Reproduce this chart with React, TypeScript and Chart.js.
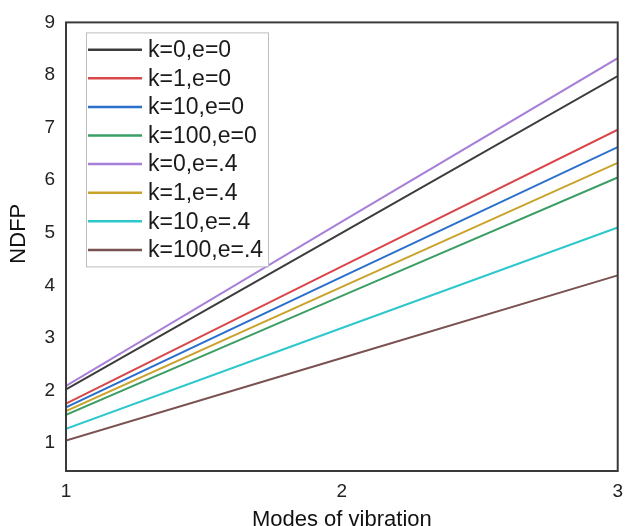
import { useEffect, useRef } from "react";
import { Chart, registerables } from "chart.js";

Chart.register(...registerables);

// Mode numbers on the x axis
const modes = [1, 2, 3];
// Y axis tick values
const yTicks = [1, 2, 3, 4, 5, 6, 7, 8, 9];
// Axis titles
const xTitle = "Modes of vibration";
const yTitle = "NDFP";

// Series names
const seriesLabels = [
  "k=0,e=0",
  "k=1,e=0",
  "k=10,e=0",
  "k=100,e=0",
  "k=0,e=.4",
  "k=1,e=.4",
  "k=10,e=.4",
  "k=100,e=.4",
];

// NDFP for each mode
const k0e0 = [2.02, 5.0, 7.98];
const k1e0 = [1.75, 4.36, 6.96];
const k10e0 = [1.68, 4.16, 6.63];
const k100e0 = [1.54, 3.8, 6.05];
const k0e04 = [2.09, 5.21, 8.32];
const k1e04 = [1.61, 3.97, 6.33];
const k10e04 = [1.27, 3.19, 5.1];
const k100e04 = [1.05, 2.62, 4.19];

const seriesValues = [k0e0, k1e0, k10e0, k100e0, k0e04, k1e04, k10e04, k100e04];

const seriesColors = [
  "#3c3c3c",
  "#d9474a",
  "#2a6fcc",
  "#3b9e64",
  "#a87fd8",
  "#c9a22a",
  "#2ec7cc",
  "#7a5252",
];

const FONT = "'Liberation Sans', Arial, Helvetica, sans-serif";

// Box around the plotting area
const framePlugin = {
  id: "frame",
  afterDatasetsDraw(chart: any) {
    const { ctx, chartArea: a } = chart;
    ctx.save();
    ctx.strokeStyle = "#3a3a3a";
    ctx.lineWidth = 2;
    ctx.strokeRect(a.left, a.top, a.right - a.left, a.bottom - a.top);
    ctx.restore();
  },
};

// Rotated y-axis title, sitting slightly above the plot's middle
const yTitlePlugin = {
  id: "yTitle",
  afterDraw(chart: any) {
    const { ctx, chartArea: a } = chart;
    ctx.save();
    ctx.translate(19, (a.top + a.bottom) / 2 - 13);
    ctx.rotate(-Math.PI / 2);
    ctx.font = `22px ${FONT}`;
    ctx.fillStyle = "#111";
    ctx.textAlign = "center";
    ctx.textBaseline = "middle";
    ctx.fillText(yTitle, 0, 0);
    ctx.restore();
  },
};

// Boxed legend in the upper-left corner of the plot
const boxLegendPlugin = {
  id: "boxLegend",
  afterDraw(chart: any) {
    const { ctx, chartArea: a } = chart;
    const boxX = a.left + 20;
    const boxY = a.top + 10;
    const boxW = 182;
    const boxH = 234;
    const rowH = 28.6;
    const firstRow = boxY + 17.3;
    ctx.save();
    ctx.fillStyle = "#ffffff";
    ctx.fillRect(boxX, boxY, boxW, boxH);
    ctx.strokeStyle = "#bdbdbd";
    ctx.lineWidth = 1;
    ctx.strokeRect(boxX + 0.5, boxY + 0.5, boxW, boxH);
    ctx.font = `23px ${FONT}`;
    ctx.textBaseline = "middle";
    ctx.textAlign = "left";
    chart.data.datasets.forEach((ds: any, i: number) => {
      const y = firstRow + i * rowH;
      ctx.strokeStyle = ds.borderColor;
      ctx.lineWidth = 2.5;
      ctx.beginPath();
      ctx.moveTo(boxX + 2, y);
      ctx.lineTo(boxX + 56, y);
      ctx.stroke();
      ctx.fillStyle = "#1a1a1a";
      ctx.fillText(ds.label, boxX + 62, y + 1);
    });
    ctx.restore();
  },
};

export default function App() {
  const canvasRef = useRef<HTMLCanvasElement | null>(null);

  useEffect(() => {
    const canvas = canvasRef.current;
    if (!canvas) return;
    const chart = new Chart(canvas, {
      type: "line",
      data: {
        datasets: seriesLabels.map((label, i) => ({
          label,
          data: modes.map((m, j) => ({ x: m, y: seriesValues[i][j] })),
          borderColor: seriesColors[i],
          backgroundColor: seriesColors[i],
          borderWidth: 2,
          pointRadius: 0,
          tension: 0,
        })),
      },
      options: {
        animation: false,
        responsive: true,
        maintainAspectRatio: false,
        layout: { padding: { top: 20, right: 5, left: 0, bottom: 0 } },
        plugins: {
          legend: { display: false },
          tooltip: { enabled: false },
        },
        scales: {
          x: {
            type: "linear",
            min: 1,
            max: 3,
            grid: { display: false, drawTicks: false },
            border: { display: false },
            ticks: {
              stepSize: 1,
              padding: 9,
              color: "#222",
              font: { family: FONT, size: 19 },
            },
            title: {
              display: true,
              text: xTitle,
              color: "#111",
              font: { family: FONT, size: 22 },
              padding: { top: 0, bottom: -7 },
            },
            afterFit(scale: any) {
              scale.height = 55;
            },
          },
          y: {
            type: "linear",
            min: 0.47,
            max: 9,
            grid: { display: false, drawTicks: false },
            border: { display: false },
            afterBuildTicks(scale: any) {
              scale.ticks = yTicks.map((v) => ({ value: v }));
            },
            ticks: {
              padding: 11,
              color: "#222",
              font: { family: FONT, size: 19 },
            },
            afterFit(scale: any) {
              scale.width = 66;
            },
          },
        },
      },
      plugins: [framePlugin, boxLegendPlugin, yTitlePlugin],
    });
    return () => chart.destroy();
  }, []);

  return (
    <div style={{ position: "absolute", left: 0, top: 0, width: 632, height: 526, background: "#fff" }}>
      <canvas ref={canvasRef} />
    </div>
  );
}
